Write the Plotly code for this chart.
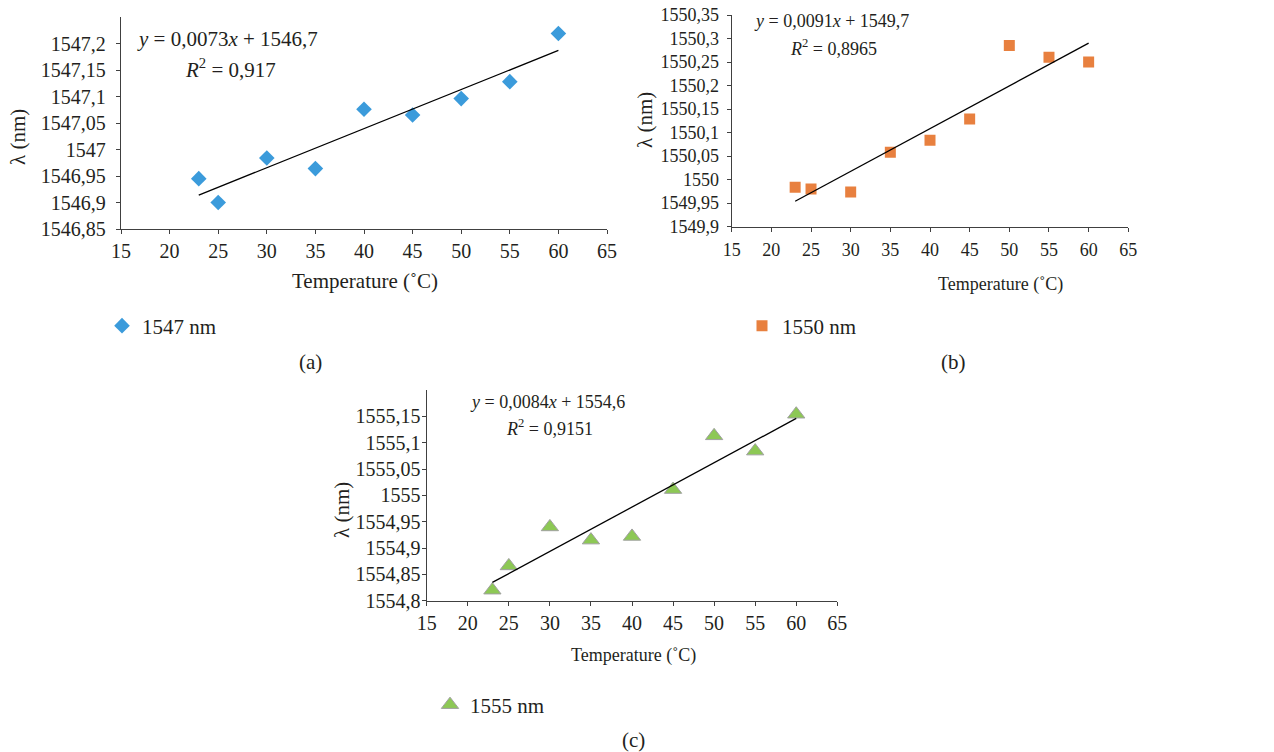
import numpy as np
import plotly.graph_objects as go

# ---------------- data ----------------
temps = [23, 25, 30, 35, 40, 45, 50, 55, 60]
lam_1547 = [1546.945, 1546.900, 1546.984, 1546.964, 1547.076, 1547.065, 1547.096, 1547.128, 1547.219]
lam_1550 = [1549.984, 1549.980, 1549.974, 1550.058, 1550.084, 1550.129, 1550.285, 1550.260, 1550.250]
lam_1555 = [1554.820, 1554.866, 1554.940, 1554.915, 1554.922, 1555.011, 1555.113, 1555.084, 1555.154]

x_ticks = [15, 20, 25, 30, 35, 40, 45, 50, 55, 60, 65]
y_ticks_a = [1546.85, 1546.9, 1546.95, 1547.0, 1547.05, 1547.1, 1547.15, 1547.2]
y_text_a = ["1546,85", "1546,9", "1546,95", "1547", "1547,05", "1547,1", "1547,15", "1547,2"]
y_ticks_b = [1549.9, 1549.95, 1550.0, 1550.05, 1550.1, 1550.15, 1550.2, 1550.25, 1550.3, 1550.35]
y_text_b = ["1549,9", "1549,95", "1550", "1550,05", "1550,1", "1550,15", "1550,2", "1550,25", "1550,3", "1550,35"]
y_ticks_c = [1554.8, 1554.85, 1554.9, 1554.95, 1555.0, 1555.05, 1555.1, 1555.15]
y_text_c = ["1554,8", "1554,85", "1554,9", "1554,95", "1555", "1555,05", "1555,1", "1555,15"]

series_names = ["1547 nm", "1550 nm", "1555 nm"]
equations = ["<i>y</i> = 0,0073<i>x</i> + 1546,7", "<i>y</i> = 0,0091<i>x</i> + 1549,7", "<i>y</i> = 0,0084<i>x</i> + 1554,6"]
r2_texts = ["<i>R</i><sup>2</sup> = 0,917", "<i>R</i><sup>2</sup> = 0,8965", "<i>R</i><sup>2</sup> = 0,9151"]
panel_labels = ["(a)", "(b)", "(c)"]

# ---------------- style ----------------
W, H = 1274, 752
FONT = "Liberation Serif, Times New Roman, serif"
TXT = "#231f20"
FS_LEG = 21

def px(x):
    return x / W

def py(y):
    return 1 - y / H

fig = go.Figure()

panels = [
    dict(y=lam_1547, color="#3b9bdb", symbol="diamond", size=12, line=dict(width=0),
         xd=[px(121), px(607)], yd=[py(229), py(17)], yr=[1546.85, 1547.25],
         yt=y_ticks_a, ytt=y_text_a, xa="x", ya="y", ysoff=6, xsoff=0, fs_tick=20, fs_txt=21),
    dict(y=lam_1550, color="#e8803f", symbol="square", size=11, line=dict(width=0),
         xd=[px(731.7), px(1128.3)], yd=[py(226.7), py(15)], yr=[1549.9, 1550.35],
         yt=y_ticks_b, ytt=y_text_b, xa="x2", ya="y2", ysoff=4, xsoff=3, fs_tick=18, fs_txt=18),
    dict(y=lam_1555, color="#8dc855", symbol="triangle-up", size=15, line=dict(width=1, color="#a0a0a0"),
         xd=[px(426.7), px(837.3)], yd=[py(600.7), py(390)], yr=[1554.8, 1555.2],
         yt=y_ticks_c, ytt=y_text_c, xa="x3", ya="y3", ysoff=-3, xsoff=0, fs_tick=20, fs_txt=18),
]
legend_names = ["legend", "legend2", "legend3"]

for i, p in enumerate(panels):
    fig.add_trace(go.Scatter(
        x=temps, y=p["y"], mode="markers", name=series_names[i],
        marker=dict(color=p["color"], symbol=p["symbol"], size=p["size"], line=p["line"]),
        xaxis=p["xa"], yaxis=p["ya"], legend=legend_names[i], showlegend=True,
    ))
    slope, icpt = np.polyfit(temps, p["y"], 1)
    xs = [min(temps), max(temps)]
    fig.add_trace(go.Scatter(
        x=xs, y=[slope * v + icpt for v in xs], mode="lines",
        line=dict(color="black", width=1.3), xaxis=p["xa"], yaxis=p["ya"],
        showlegend=False, hoverinfo="skip",
    ))

axis_common = dict(showgrid=False, zeroline=False, showline=True, linecolor="#404040", linewidth=1.3,
                   ticks="outside", ticklen=4, tickcolor="#404040", tickwidth=1.3, automargin=False)

layout = dict(width=W, height=H, autosize=False, margin=dict(l=0, r=0, t=0, b=0, pad=0),
              plot_bgcolor="white", paper_bgcolor="white",
              font=dict(family=FONT, size=FS_LEG, color=TXT))
for i, p in enumerate(panels):
    sfx = "" if i == 0 else str(i + 1)
    tf = dict(family=FONT, size=p["fs_tick"], color=TXT)
    layout["xaxis" + sfx] = dict(axis_common, domain=p["xd"], range=[15, 65], tickvals=x_ticks,
                                 anchor=p["ya"], ticklabelstandoff=p["xsoff"], tickfont=tf)
    layout["yaxis" + sfx] = dict(axis_common, domain=p["yd"], range=p["yr"], tickvals=p["yt"],
                                 ticktext=p["ytt"], anchor=p["xa"], ticklabelstandoff=p["ysoff"],
                                 tickfont=tf)
fig.update_layout(**layout)

# legends
leg_pos = [(102, 326), (742, 326), (430, 705)]
for i, (lx, ly) in enumerate(leg_pos):
    fig.update_layout(**{legend_names[i]: dict(x=px(lx), y=py(ly), xanchor="left", yanchor="middle",
                                               bgcolor="rgba(0,0,0,0)", borderwidth=0,
                                               font=dict(family=FONT, size=FS_LEG, color=TXT))})

annots = []
eq_pos = [((227, 39), (230, 68)), ((832, 21), (833, 47)), ((547, 402), (549, 427))]
xt_pos = [(365, 281), (1000, 284), (633, 655)]
yt_pos = [(18, 137), (645, 120), (342, 510)]
lab_pos = [(310, 362), (953, 362), (633, 740)]
for i in range(3):
    (ex, ey), (rx, ry) = eq_pos[i]
    f_in = dict(family=FONT, size=panels[i]["fs_txt"], color=TXT)
    f_out = dict(family=FONT, size=FS_LEG, color=TXT)
    annots.append(dict(x=px(ex), y=py(ey), text=equations[i], font=f_in))
    annots.append(dict(x=px(rx), y=py(ry), text=r2_texts[i], font=f_in))
    annots.append(dict(x=px(xt_pos[i][0]), y=py(xt_pos[i][1]), text="Temperature (˚C)", font=f_in))
    annots.append(dict(x=px(yt_pos[i][0]), y=py(yt_pos[i][1]), text="λ (nm)", textangle=-90, font=f_out))
    annots.append(dict(x=px(lab_pos[i][0]), y=py(lab_pos[i][1]), text=panel_labels[i], font=f_out))
for a in annots:
    a.update(xref="paper", yref="paper", showarrow=False, xanchor="center", yanchor="middle")
fig.update_layout(annotations=annots)

fig.write_html("out.html", config={"displayModeBar": False},
               post_script="document.body.style.margin='0';document.body.style.overflow='hidden';")
